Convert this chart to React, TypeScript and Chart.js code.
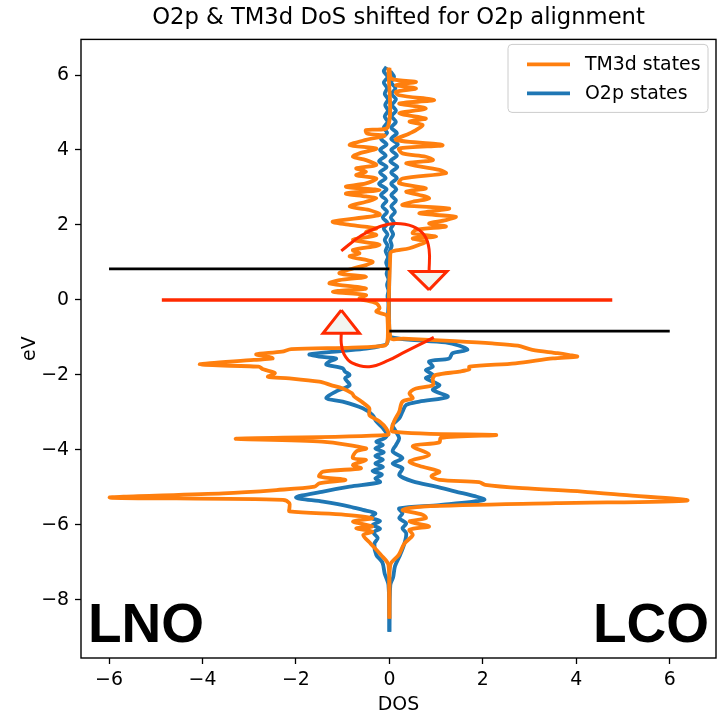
import React, { useEffect, useRef } from 'react';
import { Chart, registerables } from 'chart.js';

Chart.register(...registerables);

// ---------- data ----------
const titleText = 'O2p & TM3d DoS shifted for O2p alignment';
const xLabel = 'DOS';
const yLabel = 'eV';
const legendLabels = ['TM3d states', 'O2p states'];
const xTicks = [-6, -4, -2, 0, 2, 4, 6];
const yTicks = [-8, -6, -4, -2, 0, 2, 4, 6];
const xRange = [-6.6, 6.99];
const yRange = [-9.55, 6.95];

// [energy (eV), DOS] — LNO drawn on the left (negative), LCO on the right
const lnoTm3d: [number, number][] = [
  [6.2, -0.02], [4.62, -0.03], [4.53, -0.5], [4.44, -0.48], [4.38, -0.1], [4.27, -0.5], [4.13, -0.85],
  [4.04, -0.28], [3.91, -0.64], [3.82, -0.78], [3.73, -0.5], [3.6, -0.28], [3.51, -0.71], [3.42, -0.5],
  [3.33, -0.71], [3.24, -0.28], [3.11, -0.5], [3.02, -0.93], [2.93, -0.21], [2.84, -0.93], [2.76, -0.5],
  [2.71, -0.28], [2.62, -0.5], [2.49, -0.85], [2.4, -0.43], [2.27, -0.21], [2.09, -1.21], [2.0, -0.85],
  [1.91, -0.28], [1.82, -0.5], [1.73, -0.28], [1.6, -0.78], [1.47, -0.21], [1.33, -0.78], [1.24, -0.64],
  [1.16, -0.85], [1.02, -0.36], [0.93, -0.5], [0.84, -0.78], [0.71, -1.07], [0.62, -0.5], [0.53, -1.07],
  [0.44, -1.28], [0.31, -0.5], [0.22, -1.21], [0.13, -0.5], [0.04, -0.64], [-0.09, -0.28], [-0.22, -0.21],
  [-0.31, -0.28], [-0.4, -0.07], [-0.49, -0.04], [-1.1, -0.04], [-1.22, -0.1], [-1.27, -0.8], [-1.31, -2.1],
  [-1.38, -2.3], [-1.45, -2.85], [-1.51, -2.6], [-1.56, -2.5], [-1.6, -2.9], [-1.72, -4.06], [-1.78, -2.8],
  [-1.85, -2.7], [-1.95, -2.45], [-2.05, -2.6], [-2.09, -2.14], [-2.18, -1.5], [-2.27, -1.25], [-2.36, -1.0],
  [-2.49, -0.8], [-2.58, -0.75], [-2.71, -0.6], [-2.89, -0.43], [-3.07, -0.43], [-3.24, -0.21], [-3.42, -0.07],
  [-3.6, -0.03], [-3.7, -3.28], [-3.78, -1.44], [-3.96, -0.5], [-4.04, -0.71], [-4.22, -0.78], [-4.27, -0.5],
  [-4.4, -0.78], [-4.49, -0.61], [-4.58, -1.42], [-4.71, -1.5], [-4.8, -0.94], [-4.89, -1.5], [-4.98, -1.6],
  [-5.07, -2.42], [-5.16, -3.56], [-5.27, -5.98], [-5.33, -2.28], [-5.42, -2.14], [-5.56, -2.14], [-5.64, -2.14],
  [-5.73, -0.94], [-5.82, -0.37], [-5.91, -0.78], [-6.04, -0.37], [-6.09, -0.71], [-6.18, -0.37], [-6.27, -0.56],
  [-6.5, -0.4], [-6.8, -0.18], [-7.07, -0.02], [-8.5, 0],
];

const lcoTm3d: [number, number][] = [
  [6.18, 0.0], [5.9, 0.05], [5.82, 0.57], [5.73, 0.14], [5.64, 0.57], [5.55, 0.14], [5.46, 0.21], [5.33, 0.96],
  [5.24, 0.21], [5.11, 0.78], [4.98, 0.21], [4.84, 0.78], [4.76, 0.43], [4.67, 0.71], [4.53, 0.57], [4.44, 0.43],
  [4.27, 0.14], [4.13, 1.14], [4.04, 0.21], [3.91, 0.28], [3.82, 0.78], [3.73, 0.93], [3.64, 0.36], [3.47, 1.07],
  [3.38, 1.21], [3.24, 0.28], [3.11, 0.21], [2.98, 0.78], [2.89, 0.36], [2.8, 0.64], [2.71, 0.85], [2.62, 0.5],
  [2.53, 0.28], [2.44, 1.28], [2.31, 0.64], [2.22, 1.42], [2.13, 1.21], [2.04, 0.85], [1.96, 1.21], [1.87, 0.57],
  [1.78, 0.5], [1.69, 1.0], [1.64, 0.5], [1.56, 0.78], [1.47, 0.64], [1.38, 0.43], [1.3, 0.07], [1.25, 0.02],
  [-1.0, 0.02], [-1.03, 0.3], [-1.1, 1.4], [-1.16, 2.2], [-1.22, 2.75], [-1.33, 3.06], [-1.42, 3.6], [-1.47, 3.85],
  [-1.51, 4.02], [-1.56, 3.5], [-1.69, 2.7], [-1.78, 1.71], [-1.85, 1.71], [-1.91, 1.5], [-2.0, 1.0], [-2.09, 0.93],
  [-2.27, 0.93], [-2.36, 0.57], [-2.49, 0.43], [-2.62, 0.5], [-2.71, 0.28], [-2.98, 0.21], [-3.24, 0.1], [-3.51, 0.07],
  [-3.6, 2.28], [-3.68, 1.1], [-3.8, 1.07], [-3.9, 0.5], [-4.13, 0.85], [-4.31, 0.43], [-4.45, 0.71], [-4.58, 1.07],
  [-4.7, 0.9], [-4.8, 1.07], [-4.86, 1.92], [-4.93, 2.05], [-5.02, 2.85], [-5.11, 4.13], [-5.2, 5.0], [-5.35, 6.37],
  [-5.42, 3.56], [-5.51, 0.71], [-5.6, 0.28], [-5.73, 0.71], [-5.82, 0.78], [-5.91, 0.43], [-6.04, 0.85], [-6.13, 0.43],
  [-6.27, 0.5], [-6.5, 0.32], [-6.8, 0.2], [-7.07, 0.02], [-8.5, 0],
];

const lnoO2p: [number, number][] = [
  [6.22, -0.06], [6.1, -0.12], [5.95, -0.04], [5.8, -0.12], [5.65, -0.05], [5.5, -0.1], [5.35, -0.03], [5.2, -0.09],
  [5.05, -0.03], [4.9, -0.1], [4.75, -0.04], [4.6, -0.12], [4.45, -0.05], [4.3, -0.18], [4.15, -0.06], [4.0, -0.2],
  [3.85, -0.08], [3.7, -0.22], [3.55, -0.06], [3.4, -0.2], [3.25, -0.08], [3.1, -0.22], [2.95, -0.06], [2.8, -0.18],
  [2.65, -0.06], [2.5, -0.15], [2.35, -0.05], [2.2, -0.14], [2.05, -0.04], [1.9, -0.12], [1.75, -0.04], [1.6, -0.1],
  [1.45, -0.04], [1.3, -0.08], [1.15, -0.03], [1.0, -0.07], [0.85, -0.03], [0.7, -0.06], [0.55, -0.02], [0.4, -0.05],
  [0.25, -0.02], [0.1, -0.04], [-0.1, -0.02], [-0.4, -0.03], [-0.7, -0.02], [-1.0, -0.03], [-1.16, -0.05],
  [-1.22, -0.15], [-1.3, -0.5], [-1.36, -1.0], [-1.45, -1.71], [-1.51, -1.5], [-1.56, -1.14], [-1.64, -1.28],
  [-1.72, -1.35], [-1.82, -1.0], [-1.91, -0.95], [-2.0, -0.85], [-2.09, -0.95], [-2.27, -0.85], [-2.44, -1.14],
  [-2.62, -1.35], [-2.71, -1.0], [-2.89, -0.57], [-3.07, -0.36], [-3.24, -0.28], [-3.42, -0.14], [-3.6, -0.05],
  [-3.7, -0.12], [-3.78, -0.28], [-3.87, -0.14], [-3.96, -0.3], [-4.06, -0.12], [-4.16, -0.3], [-4.26, -0.14],
  [-4.36, -0.3], [-4.46, -0.14], [-4.56, -0.36], [-4.66, -0.16], [-4.76, -0.3], [-4.86, -0.2], [-4.98, -0.85],
  [-5.11, -1.42], [-5.27, -2.0], [-5.38, -1.42], [-5.51, -0.85], [-5.6, -0.57], [-5.69, -0.3], [-5.8, -0.4],
  [-5.9, -0.2], [-6.0, -0.36], [-6.1, -0.2], [-6.2, -0.34], [-6.35, -0.25], [-6.5, -0.32], [-6.8, -0.28],
  [-7.0, -0.15], [-7.3, -0.1], [-7.6, -0.02], [-8.85, 0],
];

const lcoO2p: [number, number][] = [
  [6.1, 0.02], [5.95, 0.1], [5.8, 0.04], [5.65, 0.13], [5.5, 0.05], [5.35, 0.14], [5.2, 0.06], [5.05, 0.14],
  [4.9, 0.05], [4.75, 0.14], [4.6, 0.04], [4.45, 0.16], [4.3, 0.04], [4.15, 0.18], [4.0, 0.04], [3.85, 0.16],
  [3.7, 0.02], [3.55, 0.17], [3.4, 0.04], [3.25, 0.16], [3.1, 0.04], [2.95, 0.15], [2.8, 0.04], [2.65, 0.14],
  [2.5, 0.04], [2.35, 0.12], [2.2, 0.03], [2.05, 0.1], [1.9, 0.03], [1.75, 0.08], [1.6, 0.02], [1.45, 0.05],
  [1.3, 0.01], [1.1, 0.0], [-0.93, 0.0], [-1.0, 0.05], [-1.06, 0.4], [-1.13, 1.2], [-1.22, 1.5], [-1.33, 1.67],
  [-1.42, 1.35], [-1.56, 1.28], [-1.64, 0.85], [-1.78, 0.93], [-1.87, 0.78], [-2.0, 0.93], [-2.09, 0.78],
  [-2.27, 1.07], [-2.4, 0.93], [-2.58, 1.25], [-2.71, 0.64], [-2.8, 0.36], [-2.98, 0.28], [-3.16, 0.21],
  [-3.33, 0.07], [-3.51, 0.14], [-3.69, 0.21], [-3.87, 0.14], [-4.04, 0.07], [-4.22, 0.28], [-4.36, 0.07],
  [-4.49, 0.28], [-4.67, 0.21], [-4.84, 0.5], [-4.98, 1.0], [-5.11, 1.42], [-5.24, 1.85], [-5.33, 2.03],
  [-5.47, 1.07], [-5.56, 0.21], [-5.69, 0.28], [-5.82, 0.21], [-5.96, 0.36], [-6.09, 0.28], [-6.22, 0.36],
  [-6.5, 0.32], [-6.8, 0.23], [-7.1, 0.12], [-7.4, 0.08], [-7.6, 0.02], [-8.85, 0],
];

// annotation lines, [DOS, energy]
const lnoEdgeLine: [number, number][] = [[-6, 0.83], [0, 0.83]];
const lcoEdgeLine: [number, number][] = [[0, -0.83], [6, -0.83]];
const alignLine: [number, number][] = [[-4.87, 0], [4.77, 0]];
const upperArrowPath: [number, number][] = [
  [-1.03, 1.31], [-0.6, 1.72], [-0.2, 1.96], [0.14, 2.04], [0.5, 1.96], [0.75, 1.72], [0.85, 1.35], [0.85, 0.76],
];
const upperArrowHead: [number, number][] = [[0.85, 0.27], [0.45, 0.76], [1.23, 0.76], [0.85, 0.27]];
const lowerArrowPath: [number, number][] = [
  [0.95, -1.0], [0.6, -1.22], [0.28, -1.42], [0.0, -1.6], [-0.43, -1.78], [-0.8, -1.68], [-0.97, -1.45],
  [-1.03, -1.15], [-1.03, -0.89],
];
const lowerArrowHead: [number, number][] = [[-1.03, -0.27], [-1.42, -0.89], [-0.64, -0.89], [-1.03, -0.27]];
// corner labels, [DOS, energy] of the text anchor
const lnoLabel = { text: 'LNO', at: [-6.45, -9.12] as [number, number] };
const lcoLabel = { text: 'LCO', at: [6.84, -9.12] as [number, number] };

// ---------- styles ----------
const ORANGE = '#ff7f0e';
const BLUE = '#1f77b4';
const RED = '#ff2a00';
const FONT = 'DejaVu Sans';
const FS = 18.9;

const dosPts = (arr: [number, number][]) => arr.map(([e, d]) => ({ x: d, y: e }));
const xyPts = (arr: [number, number][]) => arr.map(([x, y]) => ({ x, y }));

const frameLegendPlugin = {
  id: 'frameLegend',
  afterDatasetsDraw(chart: any) {
    const { ctx, chartArea: a, scales } = chart;
    const xs = scales.x;
    const ys = scales.y;
    ctx.save();
    // title, centred over the axes
    ctx.fillStyle = '#000';
    ctx.font = `22.7px "${FONT}"`;
    ctx.textAlign = 'center';
    ctx.textBaseline = 'middle';
    ctx.fillText(titleText, (a.left + a.right) / 2, 18);

    // corner labels
    ctx.font = `bold 55px "Liberation Sans", Arial, sans-serif`;
    ctx.textBaseline = 'alphabetic';
    ctx.textAlign = 'left';
    ctx.fillText(lnoLabel.text, xs.getPixelForValue(lnoLabel.at[0]), ys.getPixelForValue(lnoLabel.at[1]));
    ctx.textAlign = 'right';
    ctx.fillText(lcoLabel.text, xs.getPixelForValue(lcoLabel.at[0]), ys.getPixelForValue(lcoLabel.at[1]));

    // frame
    ctx.strokeStyle = '#000';
    ctx.lineWidth = 1.4;
    ctx.strokeRect(a.left, a.top, a.right - a.left, a.bottom - a.top);

    // legend
    const w = 200;
    const h = 68;
    const x0 = a.right - 8 - w;
    const y0 = a.top + 5;
    const r = 4;
    ctx.beginPath();
    ctx.moveTo(x0 + r, y0);
    ctx.arcTo(x0 + w, y0, x0 + w, y0 + h, r);
    ctx.arcTo(x0 + w, y0 + h, x0, y0 + h, r);
    ctx.arcTo(x0, y0 + h, x0, y0, r);
    ctx.arcTo(x0, y0, x0 + w, y0, r);
    ctx.closePath();
    ctx.fillStyle = 'rgba(255,255,255,0.8)';
    ctx.fill();
    ctx.strokeStyle = '#cccccc';
    ctx.lineWidth = 1;
    ctx.stroke();
    const colors = [ORANGE, BLUE];
    legendLabels.forEach((lab, i) => {
      const cy = y0 + 20 + i * 29;
      ctx.strokeStyle = colors[i];
      ctx.lineWidth = 3.8;
      ctx.beginPath();
      ctx.moveTo(x0 + 19, cy);
      ctx.lineTo(x0 + 62, cy);
      ctx.stroke();
      ctx.fillStyle = '#000';
      ctx.font = `${FS}px "${FONT}"`;
      ctx.textAlign = 'left';
      ctx.textBaseline = 'middle';
      ctx.fillText(lab, x0 + 77, cy + 1);
    });
    ctx.restore();
  },
};

export default function App() {
  const ref = useRef<HTMLCanvasElement | null>(null);
  useEffect(() => {
    if (!ref.current) return;
    Chart.defaults.font.family = FONT;
    const line = (data: any[], color: string, width: number, extra: any = {}) => ({
      data,
      borderColor: color,
      backgroundColor: color,
      borderWidth: width,
      showLine: true,
      pointRadius: 0,
      pointHoverRadius: 0,
      fill: false,
      borderJoinStyle: 'round',
      ...extra,
    });
    const head = (data: any[]) =>
      line(data, RED, 3, { fill: 'shape', backgroundColor: '#f2f5ef', borderJoinStyle: 'miter' });
    const tickFmt = (v: any) => (v < 0 ? '\u2212' + Math.abs(v) : String(v));

    const chart = new Chart(ref.current, {
      type: 'scatter',
      data: {
        datasets: [
          line(xyPts(alignLine), RED, 3.4),
          line(xyPts(lnoEdgeLine), '#000', 2.7),
          line(xyPts(lcoEdgeLine), '#000', 2.7),
          head(xyPts(upperArrowHead)),
          line(xyPts(upperArrowPath), RED, 3, { tension: 0.4 }),
          head(xyPts(lowerArrowHead)),
          line(xyPts(lowerArrowPath), RED, 3, { tension: 0.4 }),
          line(dosPts(lnoTm3d), ORANGE, 3.8, { tension: 0.3, label: legendLabels[0] }),
          line(dosPts(lcoTm3d), ORANGE, 3.8, { tension: 0.3 }),
          line(dosPts(lnoO2p), BLUE, 3.8, { tension: 0.3, label: legendLabels[1] }),
          line(dosPts(lcoO2p), BLUE, 3.8, { tension: 0.3 }),
        ],
      },
      options: {
        animation: false,
        responsive: false,
        maintainAspectRatio: false,
        events: [],
        layout: { padding: { left: 0, right: 2, top: 39.4, bottom: 0 } },
        plugins: {
          legend: { display: false },
          tooltip: { enabled: false },
          title: { display: false },
        },
        scales: {
          x: {
            type: 'linear',
            min: xRange[0],
            max: xRange[1],
            afterBuildTicks: (s: any) => { s.ticks = xTicks.map((v) => ({ value: v })); },
            afterFit: (s: any) => { s.height = 718 - 39.4 - (718 - 658); s.height = 60; },
            grid: { display: true, drawOnChartArea: false, drawTicks: true, tickLength: 6, color: '#000', tickWidth: 1.3 },
            border: { display: false },
            ticks: { color: '#000', font: { family: FONT, size: FS }, padding: 5, maxRotation: 0, callback: tickFmt },
            title: { display: true, text: xLabel, color: '#000', font: { family: FONT, size: FS }, padding: { top: 0, bottom: 2 } },
          },
          y: {
            type: 'linear',
            min: yRange[0],
            max: yRange[1],
            afterBuildTicks: (s: any) => { s.ticks = yTicks.map((v) => ({ value: v })); },
            afterFit: (s: any) => { s.width = 81; },
            grid: { display: true, drawOnChartArea: false, drawTicks: true, tickLength: 6, color: '#000', tickWidth: 1.3 },
            border: { display: false },
            ticks: { color: '#000', font: { family: FONT, size: FS }, padding: 6, callback: tickFmt },
            title: { display: true, text: yLabel, color: '#000', font: { family: FONT, size: FS }, padding: { top: 19, bottom: 0 } },
          },
        },
      },
      plugins: [frameLegendPlugin],
    } as any);
    return () => chart.destroy();
  }, []);

  return (
    <div style={{ position: 'fixed', left: 0, top: 0, width: 718, height: 718, background: '#fff' }}>
      <canvas ref={ref} width={718} height={718} style={{ width: 718, height: 718, display: 'block' }} />
    </div>
  );
}
